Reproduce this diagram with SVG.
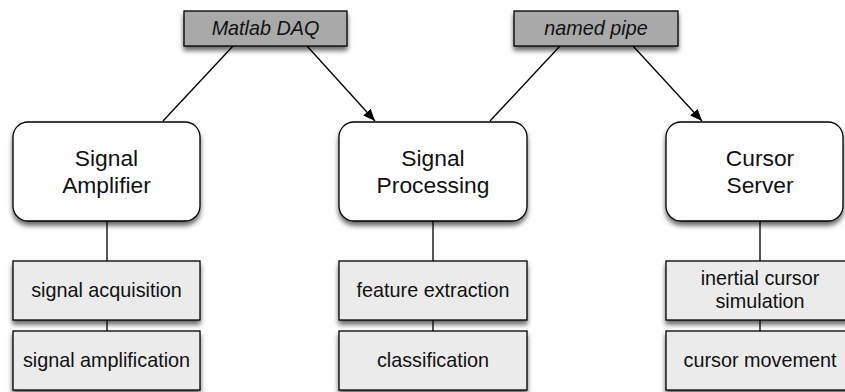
<svg xmlns="http://www.w3.org/2000/svg" width="845" height="392" viewBox="0 0 845 392">
<defs>
<filter id="sh" x="-20%" y="-20%" width="140%" height="160%">
<feGaussianBlur in="SourceAlpha" stdDeviation="2.5"/>
<feOffset dx="0" dy="4" result="b"/>
<feComponentTransfer><feFuncA type="linear" slope="0.6"/></feComponentTransfer>
<feMerge><feMergeNode/><feMergeNode in="SourceGraphic"/></feMerge>
</filter>
<marker id="arr" viewBox="0 0 12 10" refX="12" refY="5" markerWidth="12" markerHeight="10" markerUnits="userSpaceOnUse" orient="auto">
<path d="M0,0 L12,5 L0,10 Z" fill="#000"/>
</marker>
<style>
.top{fill:#a9a9a9;stroke:#000;stroke-width:1.3}
.main{fill:#fff;stroke:#000;stroke-width:1.3}
.sub{fill:#ebebeb;stroke:#000;stroke-width:1.3}
.ln{fill:none;stroke:#000;stroke-width:1.3}
text{font-family:"Liberation Sans",Arial,sans-serif;fill:#111;text-anchor:middle}
.t1{font-size:19.8px;font-style:italic}
.t2{font-size:22.8px}
.t3{font-size:19.8px}
</style>
</defs>
<g id="connectors">
<line class="ln" x1="233" y1="46" x2="163" y2="121"/>
<line class="ln" x1="307" y1="46" x2="375" y2="121" marker-end="url(#arr)"/>
<line class="ln" x1="560" y1="46" x2="490" y2="121"/>
<line class="ln" x1="633" y1="46" x2="702" y2="121" marker-end="url(#arr)"/>
<line class="ln" x1="107" y1="221" x2="107" y2="261"/>
<line class="ln" x1="107" y1="320" x2="107" y2="331"/>
<line class="ln" x1="433" y1="221" x2="433" y2="261"/>
<line class="ln" x1="433" y1="320" x2="433" y2="331"/>
<line class="ln" x1="760" y1="221" x2="760" y2="261"/>
<line class="ln" x1="760" y1="320" x2="760" y2="331"/>
</g>
<g id="matlab-daq"><rect class="top" x="184" y="11" width="163" height="35" filter="url(#sh)"/><text class="t1" x="265.5" y="35">Matlab DAQ</text></g>
<g id="named-pipe"><rect class="top" x="514" y="11" width="164" height="35" filter="url(#sh)"/><text class="t1" x="596" y="35">named pipe</text></g>
<g id="signal-amplifier"><rect class="main" x="13" y="122" width="187" height="99" rx="15" filter="url(#sh)"/><text class="t2" x="106.5" y="166">Signal</text><text class="t2" x="106.5" y="193">Amplifier</text></g>
<g id="signal-processing"><rect class="main" x="339" y="122" width="188" height="99" rx="15" filter="url(#sh)"/><text class="t2" x="433" y="166">Signal</text><text class="t2" x="433" y="193">Processing</text></g>
<g id="cursor-server"><rect class="main" x="666" y="122" width="177" height="99" rx="15" filter="url(#sh)"/><text class="t2" x="760" y="166">Cursor</text><text class="t2" x="760" y="193">Server</text></g>
<g id="signal-acquisition"><rect class="sub" x="13" y="261" width="187" height="59" filter="url(#sh)"/><text class="t3" x="106.5" y="297">signal acquisition</text></g>
<g id="signal-amplification"><rect class="sub" x="13" y="331" width="187" height="59" filter="url(#sh)"/><text class="t3" x="106.5" y="367">signal amplification</text></g>
<g id="feature-extraction"><rect class="sub" x="339" y="261" width="188" height="59" filter="url(#sh)"/><text class="t3" x="433" y="297">feature extraction</text></g>
<g id="classification"><rect class="sub" x="339" y="331" width="188" height="59" filter="url(#sh)"/><text class="t3" x="433" y="367">classification</text></g>
<g id="inertial-cursor-simulation"><rect class="sub" x="666" y="261" width="188" height="59" filter="url(#sh)"/><text class="t3" x="760" y="285">inertial cursor</text><text class="t3" x="760" y="308">simulation</text></g>
<g id="cursor-movement"><rect class="sub" x="666" y="331" width="188" height="59" filter="url(#sh)"/><text class="t3" x="760" y="367">cursor movement</text></g>
</svg>
